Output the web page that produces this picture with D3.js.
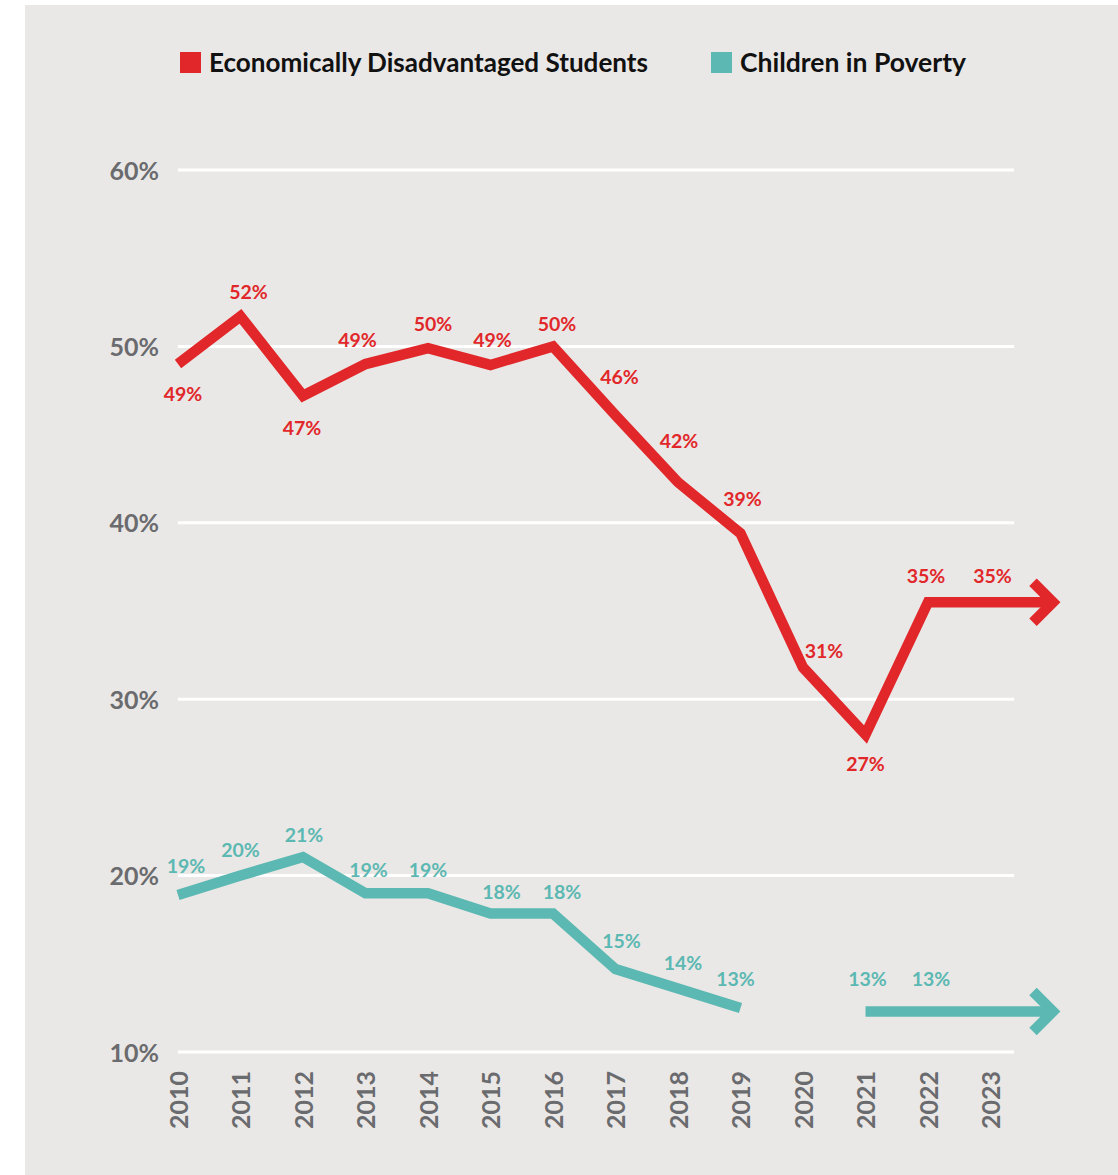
<!DOCTYPE html>
<html>
<head>
<meta charset="utf-8">
<script src="https://cdn.jsdelivr.net/npm/d3@7"></script>
<style>
  body { margin: 0; background: #ffffff; }
  text { font-family: Lato, "Open Sans", sans-serif; font-weight: 700; }
</style>
</head>
<body>
<script>
// data
var years = [2010, 2011, 2012, 2013, 2014, 2015, 2016, 2017, 2018, 2019, 2020, 2021, 2022, 2023];
var edsValues = [49.0, 51.7, 47.2, 49.0, 49.9, 48.95, 50.0, 46.1, 42.3, 39.4, 31.8, 28.0, 35.5, 35.5];
var edsLabels = ["49%", "52%", "47%", "49%", "50%", "49%", "50%", "46%", "42%", "39%", "31%", "27%", "35%", "35%"];
var povValues = [18.9, 20.0, 21.05, 19.0, 19.0, 17.85, 17.85, 14.7, 13.6, 12.5, null, 12.3, 12.3, 12.3];
var povLabels = ["19%", "20%", "21%", "19%", "19%", "18%", "18%", "15%", "14%", "13%", null, "13%", "13%", null];
var yTicks = [10, 20, 30, 40, 50, 60];
var seriesNames = ["Economically Disadvantaged Students", "Children in Poverty"];

// label nudges (px) relative to each point
var edsNudge = [[5, 37], [8, -17], [-1, 39], [-8, -17], [5, -17], [2, -18], [4, -15],
                [4, -31], [1, -34], [2, -27], [21, -9], [0, 37], [-2, -19], [2, -19]];
var povNudge = [[8, -22], [0, -19], [1, -15], [3, -16], [0, -16], [11, -15], [9, -15],
                [6, -21], [5, -18], [-5, -22], null, [2, -25], [3, -25], null];

var W = 1118, H = 1175;
var red = "#e1272a", teal = "#5cb8b2", grey = "#6a6b6e", bg = "#eae8e6";

var svg = d3.select("body").append("svg")
    .attr("width", W)
    .attr("height", H);

svg.append("rect")
    .attr("x", 25).attr("y", 5)
    .attr("width", W - 25).attr("height", H - 5)
    .attr("fill", bg);

var x = d3.scaleLinear().domain([2010, 2023]).range([178, 990.5]);
var y = d3.scaleLinear().domain([10, 60]).range([1052, 170]);

// grid lines
svg.append("g").selectAll("line")
    .data(yTicks)
    .join("line")
    .attr("x1", 178).attr("x2", 1014)
    .attr("y1", d => y(d)).attr("y2", d => y(d))
    .attr("stroke", "#ffffff")
    .attr("stroke-width", 3);

// y axis labels
var yAxis = d3.axisLeft(y).tickValues(yTicks).tickFormat(d => d + "%").tickSize(0).tickPadding(0);
var gy = svg.append("g")
    .attr("transform", "translate(159,0)")
    .call(yAxis);
gy.select(".domain").remove();
gy.selectAll("text")
    .attr("fill", grey)
    .attr("dy", "0.36em")
    .style("font-size", "25px")
    .style("font-family", "Lato, sans-serif")
    .style("font-weight", 700);

// x axis labels, rotated
var xAxis = d3.axisBottom(x).tickValues(years).tickFormat(d3.format("d")).tickSize(0).tickPadding(0);
var gx = svg.append("g")
    .attr("transform", "translate(0,1071)")
    .call(xAxis);
gx.select(".domain").remove();
gx.selectAll("text")
    .attr("fill", grey)
    .attr("transform", "rotate(-90)")
    .attr("text-anchor", "end")
    .attr("x", 0)
    .attr("y", 0)
    .attr("dy", "0.36em")
    .style("font-size", "25px")
    .style("font-family", "Lato, sans-serif")
    .style("font-weight", 700);

var arrowTip = 1053, arm = 20;

function drawSeries(values, labels, nudge, color) {
    var pts = years.map((yr, i) => ({ yr: yr, v: values[i], lab: labels[i], n: nudge[i] }));
    var line = d3.line()
        .defined(d => d.v != null)
        .x(d => x(d.yr))
        .y(d => y(d.v));

    var last = pts[pts.length - 1];
    // line continues past the last year into the arrow
    var ext = pts.concat([{ yr: x.invert(arrowTip), v: last.v }]);

    svg.append("path")
        .datum(ext)
        .attr("d", line)
        .attr("fill", "none")
        .attr("stroke", color)
        .attr("stroke-width", 10.5)
        .attr("stroke-linejoin", "miter")
        .attr("stroke-miterlimit", 10)
        .attr("stroke-linecap", "butt");

    var ty = y(last.v);
    svg.append("path")
        .attr("d", "M" + (arrowTip - arm) + "," + (ty - arm) + "L" + arrowTip + "," + ty + "L" + (arrowTip - arm) + "," + (ty + arm))
        .attr("fill", "none")
        .attr("stroke", color)
        .attr("stroke-width", 10.5)
        .attr("stroke-linejoin", "miter")
        .attr("stroke-linecap", "butt");

    svg.append("g").selectAll("text")
        .data(pts.filter(d => d.lab != null))
        .join("text")
        .attr("x", d => x(d.yr) + d.n[0])
        .attr("y", d => y(d.v) + d.n[1])
        .attr("text-anchor", "middle")
        .attr("fill", color)
        .style("font-size", "19.5px")
        .text(d => d.lab);
}

drawSeries(edsValues, edsLabels, edsNudge, red);
drawSeries(povValues, povLabels, povNudge, teal);

// legend
var legend = [
    { name: seriesNames[0], color: red, x: 180, w: 439 },
    { name: seriesNames[1], color: teal, x: 711, w: 226 }
];
var lg = svg.append("g").selectAll("g")
    .data(legend)
    .join("g")
    .attr("transform", d => "translate(" + d.x + ",52)");
lg.append("rect")
    .attr("width", 21).attr("height", 21)
    .attr("fill", d => d.color);
lg.append("text")
    .attr("x", 29)
    .attr("y", 20)
    .attr("fill", "#111111")
    .attr("textLength", d => d.w)
    .attr("lengthAdjust", "spacingAndGlyphs")
    .style("font-size", "27px")
    .text(d => d.name);
</script>
</body>
</html>
